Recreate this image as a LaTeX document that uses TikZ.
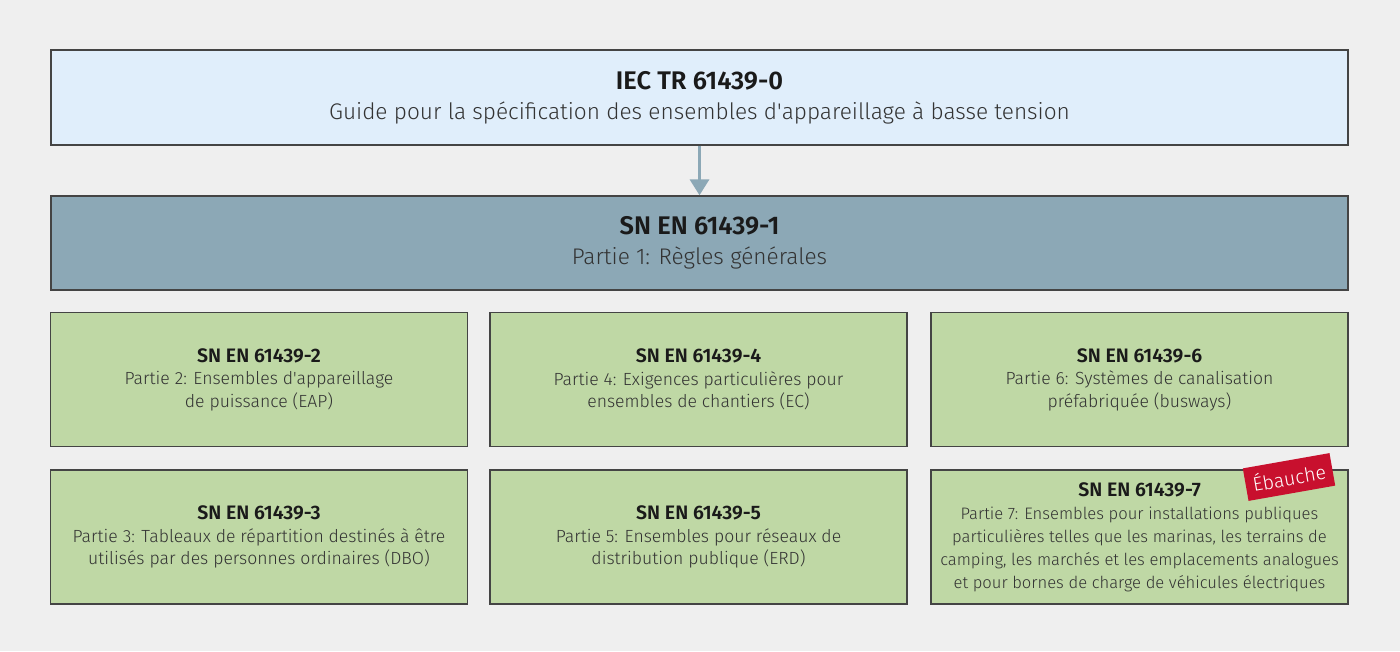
\documentclass[tikz,border=0pt]{standalone}
\usepackage{fontspec}
\setmainfont{Fira Sans}[UprightFont=* Light, BoldFont=* SemiBold]
\usetikzlibrary{arrows.meta}
\definecolor{bg}{HTML}{EFEFEF}
\definecolor{topfill}{HTML}{E0EEFB}
\definecolor{midfill}{HTML}{8CA8B6}
\definecolor{greenfill}{HTML}{BFD8A5}
\definecolor{edge}{HTML}{444444}
\definecolor{txt}{HTML}{333333}
\definecolor{ttl}{HTML}{1A1A1A}
\definecolor{arrowc}{HTML}{8CA8B6}
\definecolor{draftred}{HTML}{C8102E}
\tikzset{
  box/.style={draw=edge, line width=1.4pt, align=center, text=txt, inner sep=0pt},
  topbox/.style={box, fill=topfill, minimum width=1297pt, minimum height=95pt,
    font=\fontsize{22.6}{30}\selectfont},
  midbox/.style={box, fill=midfill, minimum width=1297pt, minimum height=94pt,
    font=\fontsize{22.6}{30}\selectfont},
  greenbox/.style={box, fill=greenfill, minimum width=417pt, minimum height=134pt,
    font=\fontsize{17.6}{22.5}\selectfont},
  densebox/.style={greenbox, font=\fontsize{16.6}{23}\selectfont},
  arr/.style={draw=arrowc, line width=3.5pt, -{Triangle[width=19pt,length=16pt]}},
  draft/.style={fill=draftred, text=white, rotate=10, minimum width=88pt, minimum height=33pt,
    inner sep=0pt, font=\fontsize{19.5}{21}\selectfont}
}
\newcommand{\bigttl}[1]{{\fontsize{25.5}{30}\selectfont\bfseries\color{ttl}#1}}
\newcommand{\smallttl}[1]{{\fontsize{19.5}{22.5}\selectfont\bfseries\color{ttl}#1}}
\newcommand{\apos}{\textquotesingle}
\begin{document}
\begin{tikzpicture}[x=1pt,y=-1pt]
\fill[bg] (0,0) rectangle (1400,651);
\useasboundingbox (0,0) rectangle (1400,651);

\node[topbox] (iec) at (699.5,97.5) {\bigttl{IEC TR 61439-0}\\Guide pour la spécification des ensembles d\apos appareillage à basse tension};
\node[midbox] (sn1) at (699.5,243) {\bigttl{SN EN 61439-1}\\Partie 1: Règles générales};
\draw[arr] (iec.south) -- (sn1.north);

\node[greenbox] (sn2) at (259,379.5) {\smallttl{SN EN 61439-2}\\Partie 2: Ensembles d\apos appareillage\\de puissance (EAP)};
\node[greenbox] (sn4) at (698.5,379.5) {\smallttl{SN EN 61439-4}\\Partie 4: Exigences particulières pour\\ensembles de chantiers (EC)};
\node[greenbox] (sn6) at (1139.5,379.5) {\smallttl{SN EN 61439-6}\\Partie 6: Systèmes de canalisation\\préfabriquée (busways)};

\node[greenbox] (sn3) at (259,537) {\smallttl{SN EN 61439-3}\\Partie 3: Tableaux de répartition destinés à être\\utilisés par des personnes ordinaires (DBO)};
\node[greenbox] (sn5) at (698.5,537) {\smallttl{SN EN 61439-5}\\Partie 5: Ensembles pour réseaux de\\distribution publique (ERD)};
\node[densebox] (sn7) at (1139.5,537) {\smallttl{SN EN 61439-7}\\Partie 7: Ensembles pour installations publiques\\particulières telles que les marinas, les terrains de\\camping, les marchés et les emplacements analogues\\et pour bornes de charge de véhicules électriques};
\node[draft] (ebauche) at (1289,477) {Ébauche};
\end{tikzpicture}
\end{document}
